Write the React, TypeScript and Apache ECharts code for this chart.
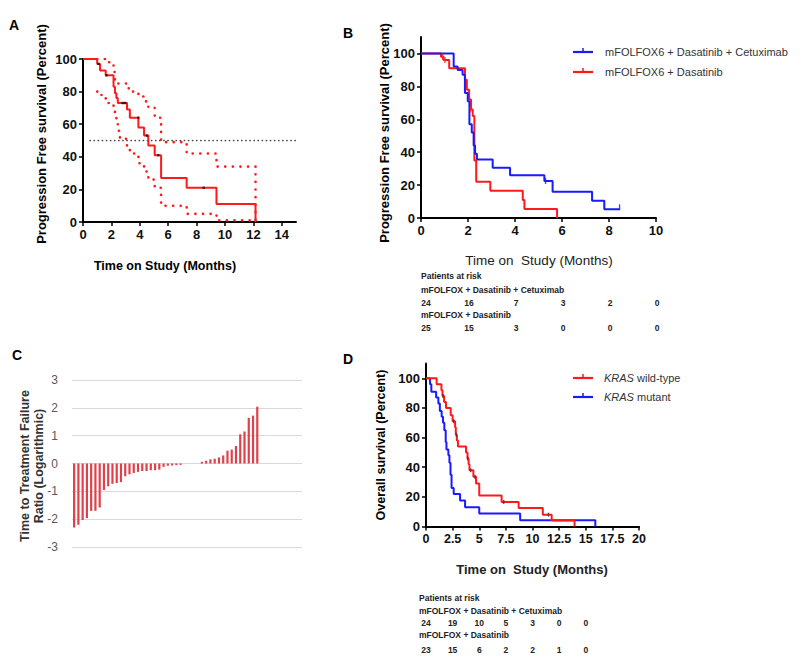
import React, { useEffect, useRef } from 'react';
import * as echarts from 'echarts';

// ---------- Panel A: PFS with 95% CI ----------
const aTimes = [0, 1.0, 1.2, 1.6, 2.15, 2.25, 2.35, 2.45, 3.1, 3.3, 3.9, 4.3, 4.6, 5.05, 5.5, 7.3, 9.4, 12.15];
const aSurv = [100, 97, 93, 90, 83, 79, 76, 73, 69, 64, 58, 53, 47, 41, 27, 21, 11, 0];
const aUpperT = [1.0, 1.6, 2.15, 2.25, 2.45, 3.1, 3.3, 3.9, 4.3, 4.6, 5.05, 5.5, 7.3, 9.4, 12.15];
const aUpperV = [100, 98, 92, 87, 85, 82, 80, 77, 74, 70, 64, 49, 42, 34, 0];
const aLowerT = [1.0, 1.3, 1.6, 2.15, 2.25, 2.35, 2.45, 2.6, 3.1, 3.3, 3.9, 4.3, 4.6, 5.05, 5.5, 7.3, 9.4, 12.15];
const aLowerV = [80, 76, 73, 69, 65, 61, 56, 51, 46, 42, 36, 31, 26, 21, 10, 5, 1, 1];
const aCensT = [1.1, 1.65, 2.8, 2.97, 3.9, 4.5, 5.3, 8.5];
const aCensV = [97, 90, 73, 73, 64, 53, 41, 21];
const aXTicks = [0, 2, 4, 6, 8, 10, 12, 14];
const pctTicks = [0, 20, 40, 60, 80, 100];

// ---------- Panel B: PFS by arm ----------
const bBlueT = [0, 1.39, 1.56, 1.77, 1.87, 1.99, 2.06, 2.16, 2.24, 2.3, 2.38, 3.05, 3.79, 5.25, 5.6, 7.28, 7.8, 8.45];
const bBlueV = [100, 92, 90, 87, 76, 71, 57, 52, 44, 39, 35.5, 30.5, 26, 22.5, 16, 10.5, 5.3, 5.3];
const bRedT = [0, 0.85, 0.96, 1.2, 1.87, 1.95, 2.05, 2.13, 2.2, 2.27, 2.35, 2.95, 4.33, 4.4, 5.79];
const bRedV = [100, 98, 96, 91, 84, 78, 72, 66, 62, 35, 22, 16.5, 11, 5.5, 0];
const bXTicks = [0, 2, 4, 6, 8, 10];
const bRiskArm1 = [24, 16, 7, 3, 2, 0];
const bRiskArm2 = [25, 15, 3, 0, 0, 0];

// ---------- Panel C: TTF ratio waterfall ----------
const cRatios = [
  -2.3, -2.2, -2.03, -1.96, -1.7, -1.7, -1.58, -0.95, -0.82, -0.73, -0.7, -0.67, -0.46,
  -0.39, -0.34, -0.3, -0.27, -0.27, -0.24, -0.24, -0.22, -0.12, -0.08, -0.07, -0.06, -0.05,
  0, 0, 0, 0,
  0.06, 0.1, 0.15, 0.17, 0.22, 0.29, 0.46, 0.5, 0.63, 1.05, 1.15, 1.64, 1.72, 2.04,
];
const cEmptySlots = 10;

// ---------- Panel D: OS by KRAS ----------
const dRedT = [0, 1.0, 1.45, 1.55, 1.7, 1.88, 2.32, 2.5, 2.73, 2.8, 2.9, 3.0, 3.76, 3.9, 4.0, 4.08, 4.45, 4.7, 5.0, 7.1, 8.7, 10.97, 11.8, 13.95];
const dRedV = [100, 96, 92, 88, 84, 80, 75, 71, 67, 62, 58, 54, 50, 46, 42, 38, 33.5, 29, 21, 16.5, 12.5, 8, 4, 0];
const dBlueT = [0, 0.38, 0.5, 0.95, 1.16, 1.3, 1.47, 1.6, 1.72, 1.85, 1.92, 2.1, 2.2, 2.3, 2.4, 2.6, 3.2, 3.67, 5.0, 8.84, 15.9];
const dBlueV = [100, 96, 91, 87, 83, 78, 74, 70, 65, 57, 52, 48, 43, 35, 26, 22, 17.5, 13, 8.7, 4.3, 0];
const dCensT = [1.6, 2.6, 2.85, 3.9, 4.2, 4.6, 7.3, 11.5];
const dCensV = [88, 71, 62, 46, 38, 33.5, 16.5, 8];
const dXTicks = [0, 2.5, 5, 7.5, 10, 12.5, 15, 17.5, 20];
const dRiskTicks = [0, 2.5, 5, 7.5, 10, 12.5, 15];
const dRiskArm1 = [24, 19, 10, 5, 3, 0, 0];
const dRiskArm2 = [23, 15, 6, 2, 2, 1, 0];

const zip = (t: number[], v: number[]) => t.map((x, i) => [x, v[i]]);

const FONT = '"Liberation Sans", Arial, sans-serif';
const RED = '#ff1a1a';
const BLUE = '#1a1aff';

// grid geometry
const GA = { left: 83, top: 59, width: 213, height: 163 };
const GB = { left: 421, top: 37, width: 235, height: 181 };
const GC = { left: 72, top: 380, width: 230, height: 167 };
const GD = { left: 426, top: 363.5, width: 213, height: 163 };

function txt(x: number, y: number, text: string, o: any = {}) {
  const size = o.size || 12;
  const weight = o.weight || 'normal';
  return {
    type: 'text',
    x,
    y,
    rotation: o.rotation || 0,
    z: 10,
    style: {
      text,
      fill: o.color || '#000',
      font: `${o.italic ? 'italic ' : ''}${weight} ${size}px ${FONT}`,
      textAlign: o.align || 'left',
      textVerticalAlign: 'middle',
      align: o.align || 'left',
      verticalAlign: 'middle',
    },
  };
}

function legendLine(x: number, y: number, color: string) {
  return [
    { type: 'line', shape: { x1: x, y1: y, x2: x + 20, y2: y }, style: { stroke: color, lineWidth: 2.2 } },
    { type: 'line', shape: { x1: x + 10, y1: y - 4, x2: x + 10, y2: y }, style: { stroke: color, lineWidth: 1.5 } },
  ];
}

function richLegend(x: number, y: number, italic: string, rest: string) {
  return {
    type: 'text', x, y, z: 10,
    style: {
      text: `{i|${italic}} {n|${rest}}`, textVerticalAlign: 'middle', verticalAlign: 'middle',
      font: `11px ${FONT}`, fill: '#333',
      rich: {
        i: { fontStyle: 'italic', fontSize: 11, fontFamily: FONT, fill: '#333', color: '#333' },
        n: { fontSize: 11, fontFamily: FONT, fill: '#333', color: '#333' },
      },
    },
  };
}

function valAxis(grid: number, min: number, max: number, ticks: number[], extra: any = {}) {
  return {
    type: 'value',
    gridIndex: grid,
    min,
    max,
    axisLine: { show: true, onZero: false, lineStyle: { color: '#000', width: 2 } },
    axisTick: { show: true, length: 4, customValues: ticks, lineStyle: { color: '#000', width: 1.5 } },
    axisLabel: { customValues: ticks, color: '#111', fontSize: 13, fontWeight: 'bold', fontFamily: FONT, margin: 6 },
    splitLine: { show: false },
    ...extra,
  };
}

function buildOption() {
  const bTickX = (t: number) => GB.left + (t / 10) * GB.width;
  const dTickX = (t: number) => GD.left + (t / 20) * GD.width;
  const riskFont = { size: 8.5, weight: 'bold', color: '#222' };

  const graphic: any[] = [
    // panel letters
    txt(9, 25, 'A', { size: 14, weight: 'bold' }),
    txt(343, 33, 'B', { size: 14, weight: 'bold' }),
    txt(12, 355, 'C', { size: 14, weight: 'bold' }),
    txt(343, 359, 'D', { size: 14, weight: 'bold' }),
    // axis titles
    txt(41, 134, 'Progression Free survival (Percent)', { size: 13, weight: 'bold', align: 'center', rotation: Math.PI / 2 }),
    txt(165, 266, 'Time on Study (Months)', { size: 12.5, weight: 'bold', align: 'center' }),
    txt(384, 133, 'Progression Free survival (Percent)', { size: 13, weight: 'bold', align: 'center', rotation: Math.PI / 2 }),
    txt(539, 260, 'Time on  Study (Months)', { size: 13.5, align: 'center', color: '#222' }),
    txt(25, 466, 'Time to Treatment Failure', { size: 12.5, weight: 'bold', align: 'center', rotation: Math.PI / 2, color: '#333' }),
    txt(39, 466, 'Ratio (Logarithmic)', { size: 12.5, weight: 'bold', align: 'center', rotation: Math.PI / 2, color: '#333' }),
    txt(381, 445, 'Overall survival (Percent)', { size: 12.5, weight: 'bold', align: 'center', rotation: Math.PI / 2 }),
    txt(532, 569, 'Time on  Study (Months)', { size: 13, weight: 'bold', align: 'center', color: '#222' }),
    // legend B
    ...legendLine(573, 52, BLUE),
    txt(605, 52, 'mFOLFOX6 + Dasatinib + Cetuximab', { size: 11, color: '#333' }),
    ...legendLine(573, 72, RED),
    txt(605, 72, 'mFOLFOX6 + Dasatinib', { size: 11, color: '#333' }),
    // legend D
    ...legendLine(573, 378, RED),
    richLegend(604, 378, 'KRAS', 'wild-type'),
    ...legendLine(573, 397, BLUE),
    richLegend(604, 397, 'KRAS', 'mutant'),
    // risk table B
    txt(421, 276, 'Patients at risk', riskFont),
    txt(421, 290, 'mFOLFOX + Dasatinib + Cetuximab', riskFont),
    txt(421, 315, 'mFOLFOX + Dasatinib', riskFont),
    ...bRiskArm1.map((n, i) => txt(bTickX(bXTicks[i]) + (i === 0 ? 5 : 1), 303, String(n), { ...riskFont, align: 'center' })),
    ...bRiskArm2.map((n, i) => txt(bTickX(bXTicks[i]) + (i === 0 ? 5 : 1), 328, String(n), { ...riskFont, align: 'center' })),
    // risk table D
    txt(419, 598, 'Patients at risk', riskFont),
    txt(419, 611, 'mFOLFOX + Dasatinib + Cetuximab', riskFont),
    txt(419, 635, 'mFOLFOX + Dasatinib', riskFont),
    ...dRiskArm1.map((n, i) => txt(dTickX(dRiskTicks[i]), 623, String(n), { ...riskFont, align: 'center' })),
    ...dRiskArm2.map((n, i) => txt(dTickX(dRiskTicks[i]), 650, String(n), { ...riskFont, align: 'center' })),
  ];

  const cCats = [...cRatios, ...Array(cEmptySlots).fill(null)].map((_, i) => String(i + 1));
  const cData = [...cRatios, ...Array(cEmptySlots).fill(null)];

  const km = (name: string, data: number[][], color: string, xi: number, extra: any = {}) => ({
    name,
    type: 'line',
    step: 'end',
    xAxisIndex: xi,
    yAxisIndex: xi,
    data,
    showSymbol: false,
    symbol: 'none',
    lineStyle: { color, width: 2 },
    itemStyle: { color },
    silent: true,
    ...extra,
  });
  const cens = (data: number[][], color: string, xi: number, size: any = [1.4, 6]) => ({
    type: 'scatter',
    xAxisIndex: xi,
    yAxisIndex: xi,
    data,
    symbol: 'rect',
    symbolSize: size,
    itemStyle: { color },
    silent: true,
    z: 5,
  });
  const dotStyle = { color: RED, width: 2.6, type: [0.1, 7.5], cap: 'round' };

  return {
    animation: false,
    backgroundColor: '#fff',
    textStyle: { fontFamily: FONT },
    grid: [
      { ...GA, containLabel: false },
      { ...GB, containLabel: false },
      { ...GC, containLabel: false },
      { ...GD, containLabel: false },
    ],
    xAxis: [
      valAxis(0, 0, 15, aXTicks),
      valAxis(1, 0, 10, bXTicks),
      {
        type: 'category', gridIndex: 2, data: cCats, show: false,
        axisLine: { show: false }, axisTick: { show: false }, axisLabel: { show: false },
      },
      valAxis(3, 0, 20, dXTicks, {
        axisLabel: { customValues: dXTicks, color: '#111', fontSize: 12.5, fontWeight: 'bold', fontFamily: FONT, margin: 6 },
      }),
    ],
    yAxis: [
      valAxis(0, 0, 100, pctTicks),
      valAxis(1, 0, 110, pctTicks),
      {
        type: 'value', gridIndex: 2, min: -3, max: 3, interval: 1,
        axisLine: { show: false }, axisTick: { show: false },
        axisLabel: { color: '#595959', fontSize: 12, fontFamily: FONT, margin: 14 },
        splitLine: { show: true, lineStyle: { color: '#d9d9d9', width: 1 } },
      },
      valAxis(3, 0, 110, pctTicks),
    ],
    series: [
      // A
      km('A upper CI', zip(aUpperT, aUpperV), RED, 0, { lineStyle: dotStyle }),
      km('A lower CI', zip(aLowerT, aLowerV), RED, 0, { lineStyle: dotStyle }),
      {
        type: 'line', xAxisIndex: 0, yAxisIndex: 0, data: [[0.5, 50], [15, 50]], showSymbol: false, symbol: 'none',
        lineStyle: { color: '#444', width: 1.7, type: [0.1, 4], cap: 'round' }, silent: true,
      },
      km('PFS', zip(aTimes, aSurv), RED, 0),
      cens(zip(aCensT, aCensV), '#111', 0, [2.4, 2.4]),
      // B
      km('mFOLFOX6 + Dasatinib', zip(bRedT, bRedV), RED, 1),
      km('mFOLFOX6 + Dasatinib + Cetuximab', zip(bBlueT, bBlueV), BLUE, 1),
      cens([[0.92, 98], [1.02, 96], [2.1, 66]], RED, 1),
      cens([[5.3, 22.5], [8.45, 6.5]], BLUE, 1),
      // C
      {
        type: 'bar', xAxisIndex: 2, yAxisIndex: 2, data: cData, barWidth: 2.2,
        itemStyle: { color: '#e0404a' }, silent: true,
      },
      // D
      km('KRAS mutant', zip(dBlueT, dBlueV), BLUE, 3),
      km('KRAS wild-type', zip(dRedT, dRedV), RED, 3),
      cens(zip(dCensT, dCensV), '#552222', 3, [1.4, 4]),
    ],
    graphic,
  };
}

export default function App() {
  const ref = useRef<HTMLDivElement>(null);
  useEffect(() => {
    if (!ref.current) return;
    const chart = echarts.init(ref.current, null, { renderer: 'svg' });
    chart.setOption(buildOption() as any);
    return () => chart.dispose();
  }, []);
  return (
    <div
      ref={ref}
      style={{ position: 'absolute', left: 0, top: 0, width: 800, height: 667, background: '#fff' }}
    />
  );
}
